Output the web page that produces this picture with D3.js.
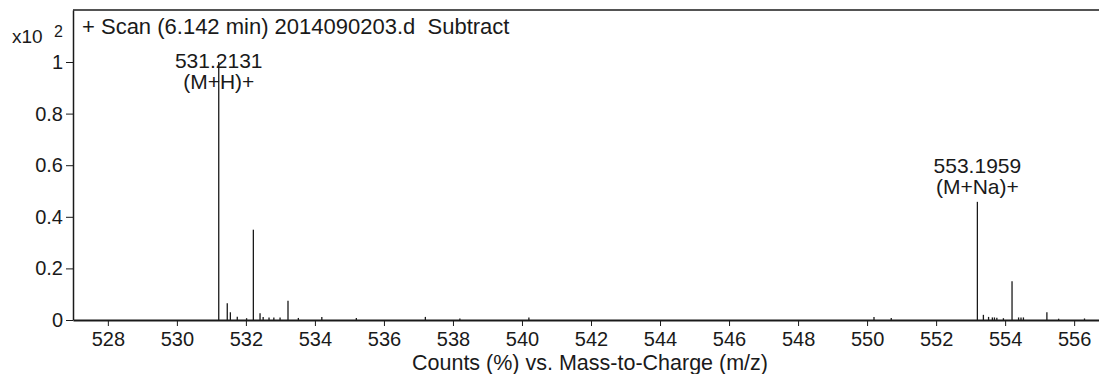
<!DOCTYPE html>
<html>
<head>
<meta charset="utf-8">
<script src="https://cdn.jsdelivr.net/npm/d3@7"></script>
<style>
  body { margin: 0; background: #fff; }
  svg { display: block; font-family: "Liberation Sans", Arial, sans-serif; }
</style>
</head>
<body>
<script>
// m/z of each peak and its relative abundance (x10^2 counts)
const mz = [
  531.2131, 531.46, 531.55, 531.75, 532.02, 532.216, 532.41, 532.50, 532.67, 532.81, 532.99, 533.22, 533.52,
  534.2, 535.2, 537.2, 538.2, 540.2, 550.2, 550.7,
  553.1959, 553.37, 553.52, 553.63, 553.69, 553.76, 553.95, 554.2, 554.39, 554.46, 554.53, 555.21, 555.55, 556.3
]
const counts = [
  1.0, 0.065, 0.030, 0.013, 0.007, 0.35, 0.026, 0.012, 0.010, 0.010, 0.010, 0.075, 0.008,
  0.012, 0.008, 0.012, 0.006, 0.010, 0.012, 0.008,
  0.458, 0.020, 0.012, 0.010, 0.010, 0.009, 0.007, 0.15, 0.010, 0.010, 0.010, 0.030, 0.005, 0.006
]
// annotated peaks
const labelMz = [531.2131, 553.1959]
const labelText = [['531.2131', '(M+H)+'], ['553.1959', '(M+Na)+']]

const xTicks = d3.range(528, 557, 2)
const yTicks = [0, 0.2, 0.4, 0.6, 0.8, 1]

const width = 1099
const height = 374
const margin = { left: 73, right: 0, top: 10, bottom: 54 }

const peaks = mz.map((m, i) => ({ mz: m, c: counts[i] }))

const svg = d3.select('body')
  .append('svg')
  .attr('width', width)
  .attr('height', height)

const x = d3.scaleLinear()
  .domain([526.99, 556.72])
  .range([margin.left, width - margin.right])

const y = d3.scaleLinear()
  .domain([0, 1.2016])
  .range([height - margin.bottom, margin.top])

const ink = '#1a1a1a'

// frame: top line
svg.append('line')
  .attr('x1', margin.left).attr('x2', width)
  .attr('y1', margin.top).attr('y2', margin.top)
  .attr('stroke', ink).attr('stroke-width', 1.5)

// peaks
svg.append('g')
  .selectAll('line')
  .data(peaks)
  .join('line')
    .attr('x1', d => x(d.mz)).attr('x2', d => x(d.mz))
    .attr('y1', y(0)).attr('y2', d => y(d.c))
    .attr('stroke', ink)
    .attr('stroke-width', 1.3)

// x axis
const xAxis = svg.append('g')
  .attr('transform', `translate(0, ${y(0)})`)
  .call(d3.axisBottom(x).tickValues(xTicks).tickFormat(d3.format('d'))
    .tickSize(6).tickSizeOuter(0).tickPadding(6))
xAxis.select('.domain').attr('stroke', ink).attr('stroke-width', 2)
xAxis.selectAll('.tick line').attr('stroke', ink)
xAxis.selectAll('text').attr('font-size', 20).attr('fill', ink)

// y axis
const yAxis = svg.append('g')
  .attr('transform', `translate(${margin.left}, 0)`)
  .call(d3.axisLeft(y).tickValues(yTicks).tickFormat(d => d === 0 || d === 1 ? d : d3.format('.1f')(d))
    .tickSize(7).tickSizeOuter(0).tickPadding(3))
yAxis.select('.domain').attr('stroke', ink).attr('stroke-width', 1.5)
yAxis.selectAll('.tick line').attr('stroke', ink)
yAxis.selectAll('text').attr('font-size', 20).attr('fill', ink)

// peak labels
labelMz.forEach((m, i) => {
  const p = peaks.find(d => d.mz === m)
  const top = y(p.c)
  const base = Math.max(top - 29, 68)
  const g = svg.append('g')
    .attr('text-anchor', 'middle')
    .attr('font-size', 21)
    .attr('fill', ink)
  g.append('text').attr('x', x(m)).attr('y', base).text(labelText[i][0])
  g.append('text').attr('x', x(m)).attr('y', base + 21).text(labelText[i][1])
})

// scale factor and title
svg.append('text')
  .attr('x', 12).attr('y', 43)
  .attr('font-size', 19).attr('fill', ink)
  .text('x10')
svg.append('text')
  .attr('x', 54).attr('y', 37)
  .attr('font-size', 16).attr('fill', ink)
  .text('2')
svg.append('text')
  .attr('x', 82).attr('y', 34)
  .attr('font-size', 22).attr('fill', ink)
  .style('white-space', 'pre')
  .text('+ Scan (6.142 min) 2014090203.d  Subtract')

// axis title
svg.append('text')
  .attr('x', 590).attr('y', 370)
  .attr('text-anchor', 'middle')
  .attr('font-size', 21.5).attr('fill', ink)
  .text('Counts (%) vs. Mass-to-Charge (m/z)')
</script>
</body>
</html>
